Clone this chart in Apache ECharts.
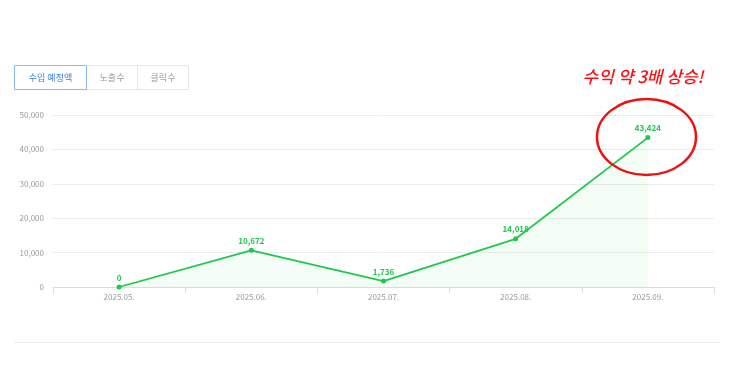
<!DOCTYPE html>
<html><head><meta charset="utf-8">
<script src="https://cdn.jsdelivr.net/npm/echarts@6/dist/echarts.min.js"></script>
<style>html,body{margin:0;padding:0;background:#fff}#c{width:743px;height:371px}</style>
</head><body><div id="c"></div>
<script>
const categories = ['2025.05.', '2025.06.', '2025.07.', '2025.08.', '2025.09.'];
const revenue = [0, 10672, 1736, 14018, 43424];
const yTicks = [0, 10000, 20000, 30000, 40000, 50000];
const tabs = ['수입 예정액', '노출수', '클릭수'];
const annotation = '수익 약 3배 상승!';

const FONT = '"Noto Sans CJK KR", "Noto Sans", sans-serif';
const chart = echarts.init(document.getElementById('c'));

const tabX = [14, 86, 137, 188];
const tabGraphics = [];
tabs.forEach((t, i) => {
  const sel = i === 0;
  tabGraphics.push({
    type: 'rect', z: sel ? 11 : 10,
    shape: { x: tabX[i] + 0.5, y: 65.5, width: tabX[i + 1] - tabX[i], height: 24 },
    style: { fill: '#fff', stroke: sel ? '#8ab8f0' : '#e6e6e6', lineWidth: 1 }
  });
  tabGraphics.push({
    type: 'text', z: 12,
    style: {
      text: t, x: (tabX[i] + tabX[i + 1]) / 2 + 0.5, y: 77.5,
      align: 'center', verticalAlign: 'middle',
      fill: sel ? '#3b82e6' : '#a0a0a0', font: '9px ' + FONT
    }
  });
});

chart.setOption({
  animation: false,
  grid: { left: 53, right: 29, top: 115, bottom: 84 },
  xAxis: {
    type: 'category', data: categories, boundaryGap: true,
    axisLine: { lineStyle: { color: '#d5dce8', width: 1 } },
    axisTick: { show: true, length: 6, lineStyle: { color: '#d5dce8' } },
    axisLabel: { color: '#9a9a9a', fontSize: 8, fontFamily: FONT, margin: 6 }
  },
  yAxis: {
    type: 'value', min: 0, max: 50000, interval: 10000,
    axisLine: { show: false }, axisTick: { show: false },
    splitLine: { lineStyle: { color: '#ececec', width: 1 } },
    axisLabel: {
      color: '#9a9a9a', fontSize: 8, fontFamily: FONT, margin: 9,
      formatter: v => yTicks.includes(v) ? v.toLocaleString('en-US') : ''
    }
  },
  series: [{
    type: 'line', data: revenue,
    symbol: 'circle', symbolSize: 5,
    itemStyle: { color: '#1ec94c' },
    lineStyle: { color: '#1ec94c', width: 1.8 },
    areaStyle: { color: 'rgba(30,201,76,0.07)' },
    label: {
      show: true, position: 'top', distance: 3,
      color: '#1ec94c', fontSize: 8, fontWeight: 'bold', fontFamily: FONT,
      formatter: p => p.value.toLocaleString('en-US')
    }
  }],
  graphic: tabGraphics.concat([
    {
      type: 'text', z: 20,
      style: {
        text: annotation, x: 643, y: 77, align: 'center', verticalAlign: 'middle',
        fill: '#ff1010', font: 'italic 500 17px ' + FONT
      }
    },
    {
      type: 'ellipse', z: 20,
      shape: { cx: 646.5, cy: 137, rx: 49.5, ry: 38 },
      style: { fill: 'none', stroke: '#ee1111', lineWidth: 2.5 }
    },
    {
      type: 'line', z: 5,
      shape: { x1: 14, y1: 342.5, x2: 720, y2: 342.5 },
      style: { stroke: '#ececec', lineWidth: 1 }
    }
  ])
});
</script>
</body></html>
